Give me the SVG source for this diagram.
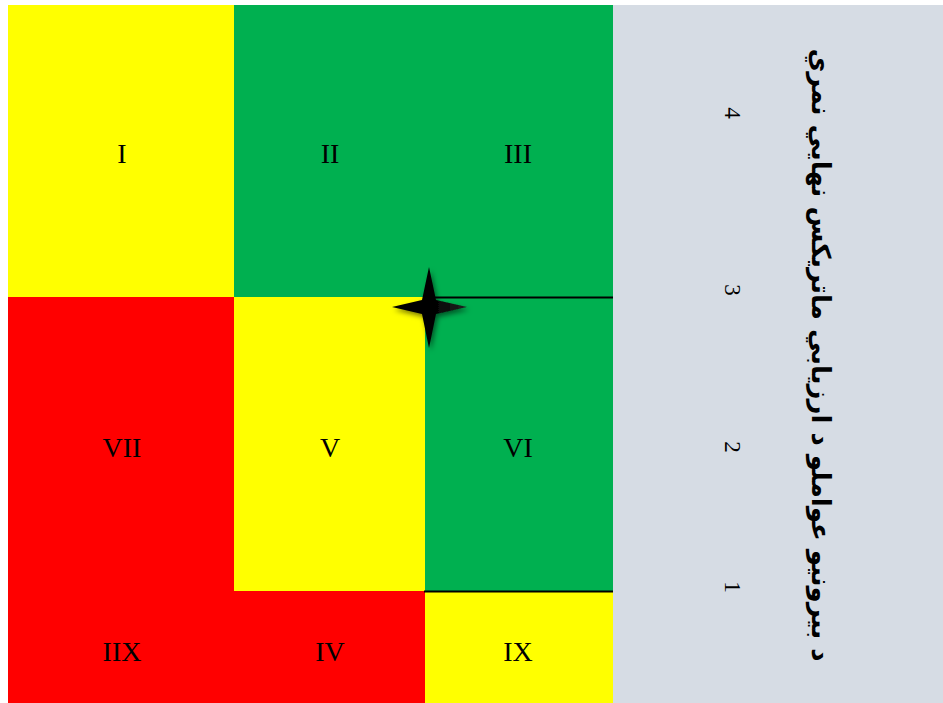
<svg xmlns="http://www.w3.org/2000/svg" width="943" height="703" viewBox="0 0 943 703">
<defs>
<style>
.cell{stroke:none}
.y{fill:#FFFF00}.g{fill:#00B050}.r{fill:#FF0000}
.rn{font-family:"Liberation Serif",serif;font-size:28px;fill:#000;text-anchor:middle;dominant-baseline:central}
.num{font-family:"Liberation Serif",serif;font-size:23px;fill:#000;text-anchor:middle;dominant-baseline:central}
.title{font-family:"DejaVu Sans","Noto Sans",sans-serif;font-weight:bold;font-size:26px;fill:#000;text-anchor:middle;dominant-baseline:central}
.ln{stroke:#000;stroke-width:2;fill:none}
</style>
<linearGradient id="sg" x1="0" y1="0" x2="1" y2="0">
<stop offset="0" stop-color="#000"/><stop offset="0.6" stop-color="#050505"/><stop offset="1" stop-color="#222"/>
</linearGradient>
<filter id="sh" x="-30%" y="-30%" width="160%" height="160%">
<feDropShadow dx="2" dy="3" stdDeviation="2.5" flood-color="#000" flood-opacity="0.5"/>
</filter>
</defs>
<rect x="0" y="0" width="943" height="703" fill="#fff"/>
<rect id="panel" x="613" y="5" width="330" height="698" fill="#D6DCE4"/>
<g id="cell-I"><rect class="cell y" x="8" y="5" width="226" height="292"/><text class="rn" x="122" y="153">I</text></g>
<g id="cell-II"><rect class="cell g" x="234" y="5" width="191" height="292"/><text class="rn" x="330" y="153">II</text></g>
<g id="cell-III"><rect class="cell g" x="424" y="5" width="189" height="292"/><text class="rn" x="518" y="153">III</text></g>
<g id="cell-VII"><rect class="cell r" x="8" y="297" width="226" height="294"/><text class="rn" x="122" y="447">VII</text></g>
<g id="cell-V"><rect class="cell y" x="234" y="297" width="191" height="294"/><text class="rn" x="330" y="447">V</text></g>
<g id="cell-VI"><rect class="cell g" x="425" y="297" width="188" height="294"/><text class="rn" x="518" y="447">VI</text></g>
<g id="cell-IIX"><rect class="cell r" x="8" y="591" width="226" height="112"/><text class="rn" x="122" y="651">IIX</text></g>
<g id="cell-IV"><rect class="cell r" x="233" y="591" width="192" height="112"/><text class="rn" x="330" y="651">IV</text></g>
<g id="cell-IX"><rect class="cell y" x="425" y="591" width="188" height="112"/><text class="rn" x="518" y="651">IX</text></g>
<g id="connectors">
<line class="ln" x1="425" y1="297.5" x2="613" y2="297.5"/>
<line class="ln" x1="424" y1="591.5" x2="613" y2="591.5"/>
</g>
<g id="star"><path d="M429,267 L436,300 L467,307 L436,314 L429,348 L422,314 L392,307 L422,300 Z" fill="url(#sg)" filter="url(#sh)"/></g>
<g id="axis-numbers">
<text class="num" transform="translate(732,113) rotate(90)">4</text>
<text class="num" transform="translate(732,290) rotate(90)">3</text>
<text class="num" transform="translate(732,447) rotate(90)">2</text>
<text class="num" transform="translate(732,587) rotate(90)">1</text>
</g>
<g id="title"><text class="title" transform="translate(821,355) rotate(90)" direction="rtl">د بیرونیو عواملو د ارزیابي ماتریکس نهایي نمري</text></g>
</svg>
